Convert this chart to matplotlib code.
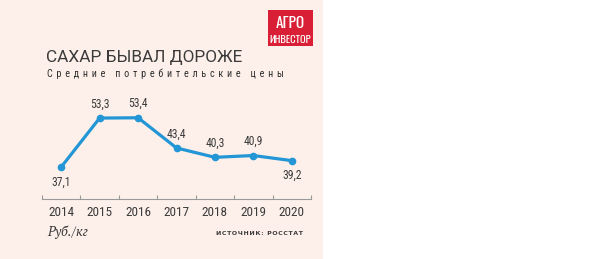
import matplotlib
matplotlib.use("Agg")
import matplotlib.pyplot as plt
from matplotlib.patches import Rectangle

years = ["2014", "2015", "2016", "2017", "2018", "2019", "2020"]
prices = [37.1, 53.3, 53.4, 43.4, 40.3, 40.9, 39.2]
label_pos = ["below", "above", "above", "above", "above", "above", "below"]

title = "САХАР БЫВАЛ ДОРОЖЕ"
subtitle = "Средние потребительские цены"
unit = "Руб./кг"
source = "ИСТОЧНИК: РОССТАТ"
logo_top = "АГРО"
logo_bottom = "ИНВЕСТОР"

BG = "#fdf0ea"
BLUE = "#2396d6"
TXT = "#3b3b3b"
COND = ["Roboto Condensed", "DejaVu Sans"]

fig = plt.figure(figsize=(6.0, 2.59), dpi=100)
fig.patch.set_facecolor("white")
W, H = 600, 259
fig.patches.append(Rectangle((0, 0), 323 / W, 1, transform=fig.transFigure,
                             facecolor=BG, edgecolor="none", zorder=-5))

ax = fig.add_axes([42 / W, (H - 199) / H, (311 - 42) / W, 99 / H], zorder=3)
ax.set_facecolor("none")
x = list(range(len(years)))
ax.plot(x, prices, color=BLUE, lw=2.3, marker="o", ms=4.5, solid_joinstyle="miter",
        zorder=3, clip_on=False)
ax.set_xlim(-0.5, len(years) - 0.5)
ax.set_ylim(26.5, 26.5 + 99 / 3.02)
for s in ["top", "right", "left"]:
    ax.spines[s].set_visible(False)
ax.spines["bottom"].set_color("#9a9a9a")
ax.spines["bottom"].set_linewidth(0.8)
ax.set_yticks([])
ax.set_xticks([i - 0.5 for i in range(len(years) + 1)])
ax.set_xticklabels([])
ax.tick_params(axis="x", direction="in", length=3, color="#9a9a9a", width=0.8)
for i, y in enumerate(years):
    ax.text(i, -0.075, y, transform=ax.get_xaxis_transform(), ha="center", va="top",
            fontsize=9.5, color=TXT, family=COND)
for i, v in enumerate(prices):
    lab = f"{v:.1f}".replace(".", ",")
    if label_pos[i] == "above":
        ax.annotate(lab, (i, v), xytext=(0, 5.5), textcoords="offset points", ha="center",
                    va="bottom", fontsize=8.4, color=TXT, family=COND)
    else:
        ax.annotate(lab, (i, v), xytext=(0, -6), textcoords="offset points", ha="center",
                    va="top", fontsize=8.4, color=TXT, family=COND)

fig.text(46 / W, 1 - 62 / H, title, fontsize=12.4, color=TXT, fontweight="normal",
         ha="left", va="baseline", family=["Roboto", "DejaVu Sans"])
fig.text(47 / W, 1 - 77 / H, "\u2009\u2009".join(subtitle), fontsize=7.3, color="#2e2e2e",
         ha="left", va="baseline", family=COND)
fig.text(47 / W, 1 - 236 / H, unit, fontsize=9.5, color=TXT, ha="left", va="baseline",
         family=["PT Serif", "DejaVu Serif"], style="italic")
fig.text(303 / W, 1 - 235 / H, "\u200a".join(source), fontsize=4.5, color=TXT,
         ha="right", va="baseline", family="DejaVu Sans", fontweight="bold")

# logo
fig.patches.append(Rectangle((268 / W, 1 - 46 / H), 45 / W, 36 / H, transform=fig.transFigure,
                             facecolor="#d81f36", edgecolor="none", zorder=1))
fig.text(290.5 / W, 1 - 27.5 / H, logo_top, fontsize=11, color="white", fontweight="bold",
         ha="center", va="baseline", family=["Oswald", "DejaVu Sans"], zorder=2)
fig.text(290.5 / W, 1 - 43 / H, logo_bottom, fontsize=7.6, color="white", fontweight="light",
         ha="center", va="baseline", family=["Oswald", "DejaVu Sans"], zorder=2)

fig.savefig("out.png", dpi=100, facecolor=fig.get_facecolor())
